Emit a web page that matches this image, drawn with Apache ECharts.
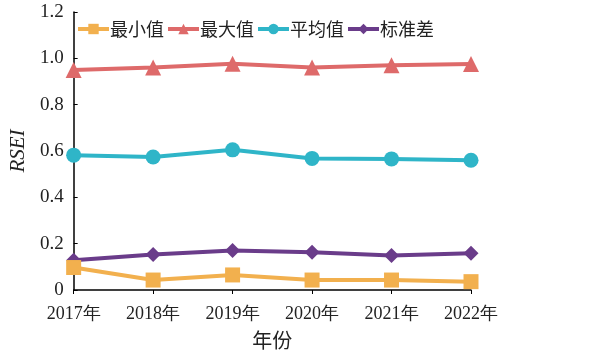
<!DOCTYPE html>
<html><head><meta charset="utf-8">
<script src="https://cdn.jsdelivr.net/npm/echarts@6/dist/echarts.min.js"></script>
<style>html,body{margin:0;padding:0;background:#fff}#c{width:606px;height:355px}</style>
</head><body><div id="c"></div>
<script>
const years = ['2017年','2018年','2019年','2020年','2021年','2022年'];
const minVals = [0.097, 0.043, 0.065, 0.043, 0.043, 0.036];
const maxVals = [0.950, 0.960, 0.977, 0.960, 0.970, 0.976];
const meanVals = [0.582, 0.574, 0.605, 0.568, 0.566, 0.560];
const stdVals = [0.128, 0.153, 0.170, 0.163, 0.149, 0.159];
const seriesNames = ['最小值','最大值','平均值','标准差'];
const colors = ['#F2B04E','#DE6A6A','#2FB5C8','#6A3C8A'];
const symbols = ['rect','triangle','circle','diamond'];
const dataSets = [minVals, maxVals, meanVals, stdVals];

const chart = echarts.init(document.getElementById('c'));
chart.setOption({
  animation:false,
  grid:{left:68,right:135,top:12,bottom:58,containLabel:false},
  legend:{
    left:71, top:15, itemGap:2, itemWidth:31, itemHeight:13,
    lineStyle:{width:4},
    textStyle:{fontFamily:'Noto Sans CJK SC', fontSize:18, color:'#222', padding:[0,0,0,-4]},
    data:seriesNames
  },
  xAxis:{
    type:'category', data:years, boundaryGap:false,
    name:'年份', nameLocation:'middle', nameGap:40,
    nameTextStyle:{fontFamily:'Noto Sans CJK SC', fontSize:20, color:'#222'},
    axisLine:{lineStyle:{color:'#000',width:1.5}},
    axisTick:{show:true,length:4,alignWithLabel:true,lineStyle:{color:'#000'}},
    axisLabel:{fontFamily:'Liberation Serif', fontSize:18, color:'#222', margin:15}
  },
  yAxis:{
    type:'value', min:0, max:1.2, interval:0.2,
    name:'RSEI', nameLocation:'middle', nameGap:36, nameRotate:90,
    nameTextStyle:{fontFamily:'Liberation Serif', fontStyle:'italic', fontSize:21, color:'#222'},
    axisLine:{show:true,lineStyle:{color:'#000',width:1.5}},
    axisTick:{show:true,inside:true,length:4,lineStyle:{color:'#000'}},
    splitLine:{show:false},
    axisLabel:{fontFamily:'Liberation Serif', fontSize:19, color:'#222', margin:10,
      formatter:v => v===0 ? '0' : v.toFixed(1)}
  },
  series: seriesNames.map((n,i)=>({
    name:n, type:'line', data:dataSets[i],
    symbol:symbols[i], symbolSize: i===0?15:(i===1?16:(i===2?15:15)),
    lineStyle:{width:4,color:colors[i]},
    itemStyle:{color:colors[i]},
    z: 10-i
  }))
});
</script></body></html>
